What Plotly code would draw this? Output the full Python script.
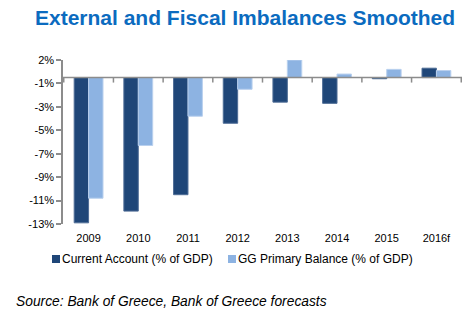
import plotly.graph_objects as go

# Annual figures, % of GDP
years = ["2009", "2010", "2011", "2012", "2013", "2014", "2015", "2016f"]
current_account = [-12.4, -11.4, -10.0, -3.9, -2.1, -2.2, -0.1, 0.8]
gg_primary_balance = [-10.3, -5.8, -3.3, -1.0, 1.5, 0.3, 0.7, 0.6]
series_names = ["Current Account (% of GDP)", "GG Primary Balance (% of GDP)"]

# Axis ticks (values sit on half-points, labels shown rounded)
y_tick_vals = [-12.5, -10.5, -8.5, -6.5, -4.5, -2.5, -0.5, 1.5]
y_tick_text = ["-13%", "-11%", "-9%", "-7%", "-5%", "-3%", "-1%", "2%"]

DARK = "#1F4678"
LIGHT = "#8DB3E2"
AXIS = "#8C8C8C"
FONT = "Arial, 'Liberation Sans', sans-serif"

# Plot-area geometry in pixels (used to place the legend keys)
W, H = 474, 327
L, R, T, B = 63, 12, 60, 103
PW, PH = W - L - R, H - T - B


def px_x(px):
    return (px - L) / PW


def px_y(py):
    return (H - B - py) / PH


fig = go.Figure()
fig.add_trace(go.Bar(
    x=years, y=current_account, name=series_names[0],
    marker=dict(color=DARK, line=dict(color="#4F6D96", width=1)),
))
fig.add_trace(go.Bar(
    x=years, y=gg_primary_balance, name=series_names[1],
    marker=dict(color=LIGHT, line=dict(color="#B9D0EE", width=1)),
))

# Horizontal axis line through zero with tick marks on category boundaries
shapes = [dict(type="line", xref="paper", yref="y", x0=0, x1=1, y0=0, y1=0,
               line=dict(color=AXIS, width=1.5))]
for i in range(len(years) + 1):
    shapes.append(dict(type="line", xref="x", yref="y", xsizemode="scaled",
                       ysizemode="pixel", yanchor=0, x0=i - 0.5, x1=i - 0.5,
                       y0=0, y1=-5, line=dict(color=AXIS, width=1.5)))

# Legend: square key followed by label, on one row
annotations = []
legend_keys = [(52, DARK), (228, LIGHT)]
ly = 259
for (kx, color), name in zip(legend_keys, series_names):
    shapes.append(dict(type="rect", xref="paper", yref="paper",
                       x0=px_x(kx), x1=px_x(kx + 8), y0=px_y(ly + 4), y1=px_y(ly - 4),
                       fillcolor=color, line=dict(width=0)))
    annotations.append(dict(text=name, xref="paper", yref="paper",
                            x=px_x(kx + 8), xanchor="left", y=px_y(ly),
                            yanchor="middle", showarrow=False,
                            font=dict(size=12, color="#000000")))

annotations.append(dict(text="<i>Source: Bank of Greece, Bank of Greece forecasts</i>",
                        xref="paper", yref="paper", x=px_x(14), xanchor="left",
                        y=px_y(301), yanchor="middle", showarrow=False,
                        font=dict(size=13.8, color="#000000")))

fig.update_layout(
    width=W, height=H,
    margin=dict(l=L, r=R, t=T, b=B),
    paper_bgcolor="white", plot_bgcolor="white",
    font=dict(family=FONT, color="#000000"),
    barmode="group", bargap=0.42, bargroupgap=0,
    showlegend=False,
    title=dict(text="<b>External and Fiscal Imbalances Smoothed</b>",
               x=0.517, xanchor="center", y=1 - 18 / H, yanchor="middle",
               font=dict(family=FONT, size=21, color="#0B6BBF")),
    xaxis=dict(showline=False, ticks="", showgrid=False, ticklabelstandoff=6,
               tickfont=dict(size=11), fixedrange=True),
    yaxis=dict(range=[-12.5, 1.5], tickvals=y_tick_vals, ticktext=y_tick_text,
               showgrid=False, zeroline=False, showline=True,
               linecolor=AXIS, linewidth=1.5, ticks="outside", ticklen=5,
               tickcolor=AXIS, tickwidth=1.5, tickfont=dict(size=11)),
    shapes=shapes,
    annotations=annotations,
)

fig.write_html("out.html")
